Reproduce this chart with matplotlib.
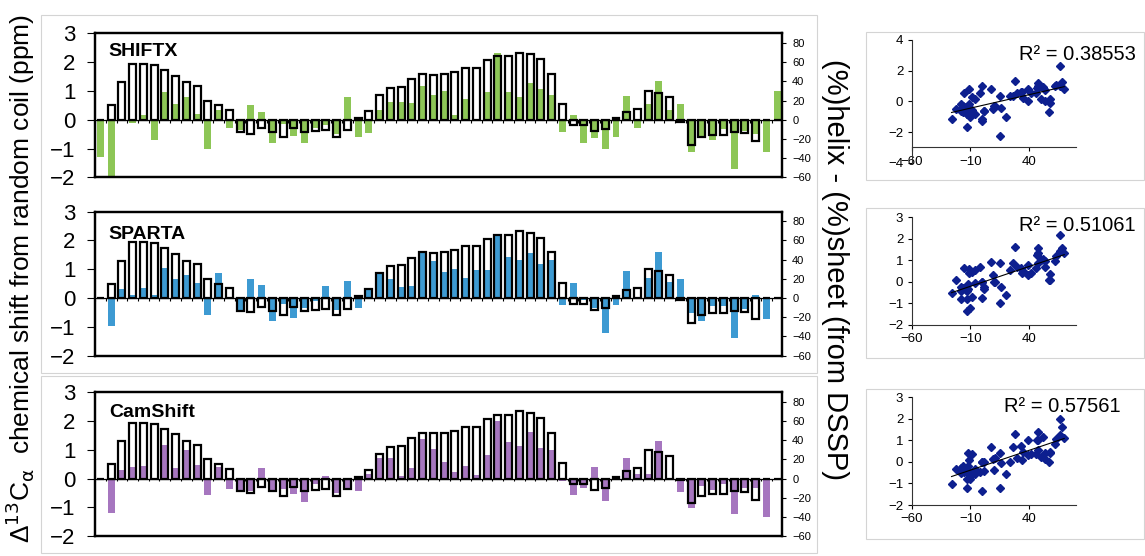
import matplotlib
matplotlib.use("Agg")
import matplotlib.pyplot as plt
import numpy as np
from matplotlib.patches import Rectangle

plt.rcParams['font.family'] = ['Liberation Sans', 'DejaVu Sans']

# DSSP (%)helix - (%)sheet, one value per residue (right axis)
dssp = [0, 15, 39, 58, 58, 57, 52, 46, 39, 35, 20, 15, 10, -13, -15, -9,
        -13, -18, -9, -13, -12, -11, -18, -11, 2, 9, 26, 33, 34, 42, 48, 47,
        48, 50, 54, 54, 62, 66, 66, 70, 68, 63, 48, 16, -6, -6, -12, -10,
        2, 8, 11, 30, 28, 24, -2, -26, -18, -16, -16, -13, -14, -22, 0, 0]

# predicted secondary C-alpha shifts (ppm, left axis)
shiftx = [-1.3, -2.25, 0.0, -0.12, 0.15, -0.7, 0.95, 0.55, 0.8, 0.2, -1.0, 0.35,
          -0.3, -0.35, 0.52, 0.28, -0.82, -0.15, -0.58, -0.82, -0.3, -0.2, -0.5, 0.8,
          -0.6, -0.47, 0.35, 0.6, 0.6, 0.57, 1.17, 0.87, 1.0, 0.17, 0.73, 0.0,
          0.97, 2.33, 0.97, 0.8, 1.27, 1.07, 0.87, -0.43, 0.17, -0.8, -0.63, -1.03,
          -0.6, 0.83, -0.3, 0.53, 1.33, 0.33, 0.53, -1.13, -0.63, -0.7, -0.33, -1.7,
          -0.4, -0.5, -1.13, 1.0]
sparta = [-0.02, -0.97, 0.33, 0.1, 0.35, 0.1, 1.05, 0.65, 0.8, 0.52, -0.6, 0.87,
          0.0, -0.42, 0.66, 0.47, -0.8, -0.22, -0.68, -0.35, -0.1, 0.42, -0.42, 0.6,
          -0.35, 0.3, 0.87, 0.65, 0.4, 0.43, 1.57, 1.27, 0.9, 1.0, 0.7, 0.97,
          0.97, 2.17, 1.43, 1.33, 1.57, 1.2, 1.33, -0.23, 0.53, -0.07, -0.33, -1.2,
          -0.23, 0.93, 0.0, 0.7, 1.6, 0.57, 0.67, -0.53, -0.8, -0.27, -0.27, -1.37,
          -0.37, 0.1, -0.73, 0.0]
camshift = [0.0, -1.2, 0.3, 0.4, 0.45, 0.0, 1.18, 0.35, 1.0, 0.48, -0.58, 0.4,
            -0.38, -0.4, -0.45, 0.35, -0.45, -0.38, -0.55, -0.8, -0.2, 0.08, -0.5, -0.4,
            -0.42, 0.15, 0.7, 0.72, 0.1, 0.37, 1.37, 1.03, 0.57, 0.23, 0.43, 0.13,
            0.83, 2.0, 1.27, 1.13, 1.63, 1.07, 1.0, -0.07, -0.57, -0.33, 0.4, -0.77,
            0.0, 0.7, 0.17, 0.17, 1.3, 0.0, -0.47, -1.03, -0.27, -0.4, -0.2, -1.23,
            -0.33, -0.33, -1.33, 0.0]

names = ['SHIFTX', 'SPARTA', 'CamShift']
series = [shiftx, sparta, camshift]
colors = ['#8dc656', '#3d9ad2', '#a676bf']
r2_labels = ['R² = 0.38553', 'R² = 0.51061', 'R² = 0.57561']

fig = plt.figure(figsize=(11.45, 5.56), dpi=100)

# light grey chart-area frames
for x0, y0, w, h in [(0.0358, 0.3291, 0.6777, 0.6439), (0.0358, 0.0054, 0.6777, 0.3183),
                     (0.7563, 0.6763, 0.2428, 0.2667), (0.7563, 0.3556, 0.2428, 0.2698),
                     (0.7563, 0.0306, 0.2428, 0.2698)]:
    fig.add_artist(Rectangle((x0, y0), w, h, transform=fig.transFigure,
                             fill=False, edgecolor='#d4d4d4', lw=0.8))

bar_pos = [(0.0830, 0.6811, 0.6004, 0.2590),
           (0.0830, 0.3603, 0.6004, 0.2590),
           (0.0830, 0.0360, 0.6004, 0.2584)]
sc_pos = [(0.7962, 0.7074, 0.1435, 0.2207),
          (0.7962, 0.4155, 0.1435, 0.1937),
          (0.7962, 0.0917, 0.1435, 0.1937)]
title_y = [0.93, 0.90, 0.92]
r2_xy = [(0.653, 0.878), (0.653, 0.928), (0.562, 0.913)]

x = np.arange(len(dssp))
dssp_arr = np.array(dssp, dtype=float)

for i in range(3):
    ax = fig.add_axes(bar_pos[i])
    ax.bar(x, series[i], width=0.65, color=colors[i], zorder=2)
    ax.axhline(0, color='black', lw=0.9, zorder=3)
    ax.vlines(np.arange(-0.5, len(x)), -0.1, 0, color='black', lw=0.8, zorder=3)
    ax.set_xlim(-0.5, len(x) - 0.5)
    ax.set_ylim(-2, 3)
    ax.set_yticks(range(-2, 4))
    ax.set_xticks([])
    ax.tick_params(axis='y', labelsize=16, length=6, width=0.8, pad=8)
    for s in ax.spines.values():
        s.set_linewidth(1.6)
    ax.text(0.02, title_y[i], names[i], transform=ax.transAxes, fontsize=14,
            fontweight='bold', va='top', ha='left')

    ax2 = ax.twinx()
    ax2.bar(x, dssp, width=0.65, fill=False, edgecolor='black', lw=1.6, zorder=4)
    ax2.set_ylim(-60, 90)
    ax2.set_yticks(range(-60, 81, 20))
    ax2.tick_params(axis='y', labelsize=8, length=3, width=0.8, pad=4)
    for s in ax2.spines.values():
        s.set_linewidth(1.6)

    # scatter vs DSSP with linear trend line
    sx = fig.add_axes(sc_pos[i])
    yv = np.array(series[i], dtype=float)
    sx.plot(dssp_arr, yv, linestyle='none', marker='D', ms=4.2,
            color='#0d1f8f', mec='#0d1f8f')
    k, b = np.polyfit(dssp_arr, yv, 1)
    xl = np.array([dssp_arr.min(), dssp_arr.max()])
    sx.plot(xl, k * xl + b, color='black', lw=0.8)
    sx.set_xlim(-60, 80)
    sx.set_xticks([-60, -10, 40])
    if i == 0:
        sx.set_ylim(-4, 4)
        sx.set_yticks([-4, -2, 0, 2, 4])
        sx.spines['bottom'].set_position(('data', -3))
    else:
        sx.set_ylim(-2, 3)
        sx.set_yticks(range(-2, 4))
    sx.spines['top'].set_visible(False)
    sx.spines['right'].set_visible(False)
    for s in ['left', 'bottom']:
        sx.spines[s].set_linewidth(0.8)
        sx.spines[s].set_color('#333333')
    sx.patch.set_alpha(0)
    sx.tick_params(labelsize=9.5, length=3, width=0.8, pad=3)
    sx.text(r2_xy[i][0], r2_xy[i][1], r2_labels[i], transform=sx.transAxes,
            fontsize=14.5, va='center', ha='left')

fig.text(0.018, 0.5, r'Δ$^{13}$C$_{\mathrm{α}}$  chemical shift from random coil (ppm)',
         rotation=90, fontsize=19, va='center', ha='center')
fig.text(0.729, 0.515, '(%)helix - (%)sheet (from DSSP)', rotation=270,
         fontsize=21, va='center', ha='center')

fig.savefig('out.png', dpi=100)
